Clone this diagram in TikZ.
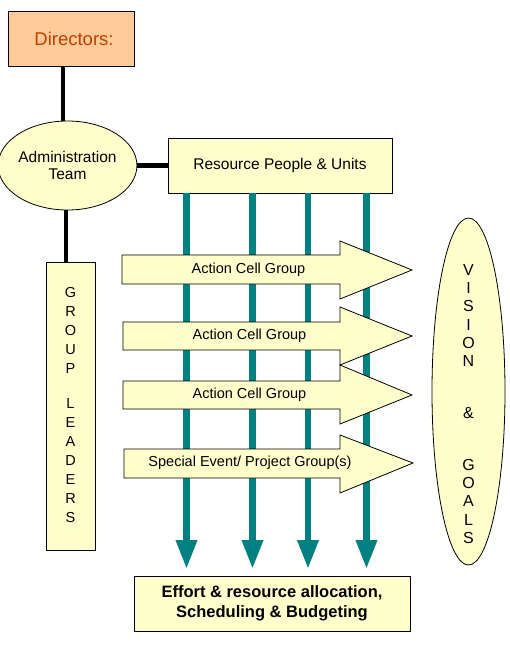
\documentclass[tikz,border=0pt]{standalone}
\usepackage{fontspec}
\setmainfont{Liberation Sans}
\usetikzlibrary{shapes.geometric,arrows.meta,backgrounds}
\definecolor{boxyellow}{HTML}{FFFFCC}
\definecolor{dirfill}{HTML}{FFCC99}
\definecolor{dirtext}{HTML}{C04000}
\definecolor{tealc}{HTML}{008080}
\tikzset{
  box/.style={draw=black, line width=0.8pt, fill=boxyellow, inner sep=0pt, align=center,
    font=\fontsize{15.5}{17}\selectfont},
  conn/.style={line width=4.5pt, black},
  flow/.style={line width=6.5pt, tealc, -{Triangle[width=20pt,length=29pt]}},
  blockarrow/.style={draw=black, line width=0.8pt, fill=boxyellow},
  lbl/.style={inner sep=0pt, font=\fontsize{14.5}{17}\selectfont},
  stack/.style={inner sep=0pt, align=center},
}
\begin{document}
\begin{tikzpicture}[x=1pt,y=-1pt]
\useasboundingbox (0,0) rectangle (509,653);

% main nodes
\node[box, fill=dirfill, text=dirtext, minimum width=126pt, minimum height=55pt,
  font=\fontsize{18.5}{21}\selectfont, text width=126pt, align=center] (dir) at (71,38.5)
  {\hspace*{6pt}Directors:};
\node[box, ellipse, minimum width=133pt, minimum height=89pt] (adm) at (67.5,165.5)
  {Administration\\Team};
\node[box, minimum width=224pt, minimum height=55pt] (res) at (280,165.5)
  {Resource People \& Units};
\node[box, minimum width=49pt, minimum height=288pt] (gl) at (70.5,406) {};
\node[stack, font=\fontsize{14.5}{19}\selectfont] (gltext) at (70.5,405.5)
  {G\\R\\O\\U\\P\\[16pt]L\\E\\A\\D\\E\\R\\S};
\node[box, minimum width=276pt, minimum height=55pt,
  font=\bfseries\fontsize{16.5}{20}\selectfont] (eff) at (272,603.5)
  {Effort \& resource allocation,\\Scheduling \& Budgeting};
\node[box, ellipse, minimum width=73pt, minimum height=347pt] (vis) at (468.5,391.5) {};
\node[stack, font=\fontsize{16}{18.3}\selectfont] (vistext) at (468.5,404)
  {V\\I\\S\\I\\O\\N\\[33.4pt]\&\\[33.4pt]G\\O\\A\\L\\S};

% black connectors
\begin{scope}[on background layer]
  \coordinate (c1) at (63,0);
  \coordinate (c2) at (66,0);
  \draw[conn] (dir.south -| c1) -- (adm.north -| c1);
  \draw[conn] (adm.east) -- (adm.east -| res.west);
  \draw[conn] (adm.south -| c2) -- (gl.north -| c2);
\end{scope}

% teal flows
\coordinate (f1) at (186.5,569);
\coordinate (f2) at (252.5,569);
\coordinate (f3) at (308,569);
\coordinate (f4) at (366.5,569);
\foreach \f in {f1,f2,f3,f4}
  \draw[flow] (res.south -| \f) -- (\f);

% block arrows
\draw[blockarrow] (122,255) -- (340,255) -- (340,241) -- (412,270) -- (340,299) -- (340,284) -- (122,284) -- cycle;
\node[lbl] (acg1) at (248.5,270) {Action Cell Group};
\draw[blockarrow] (123,322) -- (340,322) -- (340,307) -- (412,336) -- (340,365) -- (340,350) -- (123,350) -- cycle;
\node[lbl] (acg2) at (249.5,336) {Action Cell Group};
\draw[blockarrow] (123,381) -- (340,381) -- (340,365) -- (412,395) -- (340,424) -- (340,409) -- (123,409) -- cycle;
\node[lbl] (acg3) at (249.5,395) {Action Cell Group};
\draw[blockarrow] (124,449) -- (340,449) -- (340,435) -- (413,463) -- (340,493) -- (340,478) -- (124,478) -- cycle;
\node[lbl] (spg) at (250,463) {Special Event/ Project Group(s)};
\end{tikzpicture}
\end{document}
